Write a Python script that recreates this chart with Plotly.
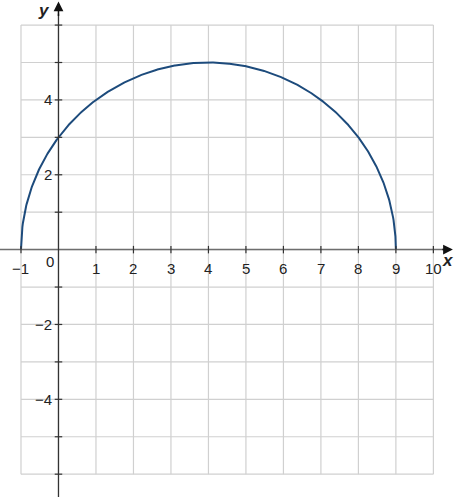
import numpy as np
import plotly.graph_objects as go

# Data: upper semicircle y = sqrt(25 - (x-4)^2), x from -1 to 9
center_x = 4
radius = 5
x_vals = np.linspace(-1, 9, 801)
y_vals = np.sqrt(np.clip(radius**2 - (x_vals - center_x)**2, 0, None))

x_ticks = [-1, 1, 2, 3, 4, 5, 6, 7, 8, 9, 10]
y_tick_labels = [4, 2, -2, -4]
y_tick_marks = [-6, -5, -4, -3, -2, -1, 1, 2, 3, 4, 5, 6]
grid_x = list(range(-1, 11))
grid_y = list(range(-6, 7))

XR = [-1.56, 10.55]
YR = [-6.61, 6.67]

fig = go.Figure()

shapes = []
gc = "#d0d0d0"
for gx in grid_x:
    shapes.append(dict(type="line", x0=gx, x1=gx, y0=-6, y1=6, line=dict(color=gc, width=1.2), layer="below"))
for gy in grid_y:
    shapes.append(dict(type="line", x0=-1, x1=10, y0=gy, y1=gy, line=dict(color=gc, width=1.2), layer="below"))

# axes
shapes.append(dict(type="line", x0=XR[0], x1=10.3, y0=0, y1=0, line=dict(color="#6e6e6e", width=1.5)))
shapes.append(dict(type="line", x0=0, x1=0, y0=YR[0], y1=6.3, line=dict(color="#333333", width=1.3)))

tk = 0.1
for t in x_ticks:
    shapes.append(dict(type="line", x0=t, x1=t, y0=-tk, y1=tk, line=dict(color="#333333", width=1.2)))
for t in y_tick_marks:
    shapes.append(dict(type="line", x0=-tk, x1=tk, y0=t, y1=t, line=dict(color="#333333", width=1.2)))

fig.add_trace(go.Scatter(x=x_vals, y=y_vals, mode="lines",
                         line=dict(color="#1d4b7c", width=2), hoverinfo="skip"))

annotations = []
font = dict(family="Liberation Sans, Arial, sans-serif", size=15, color="#222222")
for t in x_ticks:
    annotations.append(dict(x=t, y=0, xref="x", yref="y", text=("\u2212" + str(abs(t))) if t < 0 else str(t),
                            showarrow=False, yshift=-19, font=font))
annotations.append(dict(x=0, y=0, xref="x", yref="y", text="0", showarrow=False,
                        xshift=-8, yshift=-12, font=font))
for t in y_tick_labels:
    annotations.append(dict(x=0, y=t, xref="x", yref="y", text=("\u2212" + str(abs(t))) if t < 0 else str(t),
                            showarrow=False, xanchor="right", xshift=-4, font=font))

# arrows
annotations.append(dict(x=10.52, y=0, ax=10.2, ay=0, xref="x", yref="y", axref="x", ayref="y",
                        text="", showarrow=True, arrowhead=2, arrowsize=1.3, arrowwidth=1.5, arrowcolor="#111111"))
annotations.append(dict(x=0, y=6.63, ax=0, ay=6.2, xref="x", yref="y", axref="x", ayref="y",
                        text="", showarrow=True, arrowhead=2, arrowsize=1.3, arrowwidth=1.5, arrowcolor="#111111"))
lab_font = dict(family="Liberation Sans, Arial, sans-serif", size=17, color="#222222")
annotations.append(dict(x=-0.38, y=6.4, xref="x", yref="y", text="<b><i>y</i></b>", showarrow=False, font=lab_font))
annotations.append(dict(x=10.4, y=-0.3, xref="x", yref="y", text="<b><i>x</i></b>", showarrow=False, font=lab_font))

fig.update_layout(
    width=454, height=497,
    margin=dict(l=0, r=0, t=0, b=0),
    paper_bgcolor="white", plot_bgcolor="white",
    showlegend=False,
    xaxis=dict(range=XR, visible=False, fixedrange=True),
    yaxis=dict(range=YR, visible=False, fixedrange=True),
    shapes=shapes, annotations=annotations,
)

fig.write_html("out.html", config={"displayModeBar": False},
               post_script="document.body.style.margin='0px';document.body.style.overflow='hidden';")
